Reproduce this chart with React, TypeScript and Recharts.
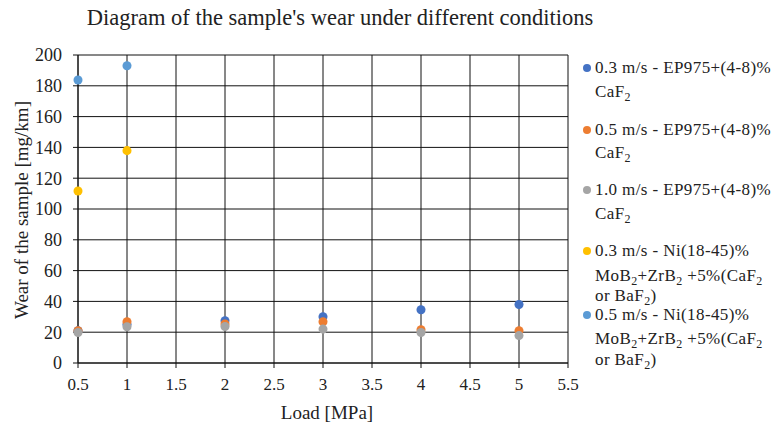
import React from "react";
import {
  CartesianGrid,
  Scatter,
  ScatterChart,
  XAxis,
  YAxis,
  ZAxis,
} from "recharts";

const loads = [0.5, 1, 2, 3, 4, 5];
const ep03 = [21, 25, 27.5, 30, 34.6, 38];
const ep05 = [21, 26.8, 25.3, 26.8, 21.6, 21];
const ep10 = [19.8, 23.5, 23.7, 22, 19.8, 17.8];
const niLoads = [0.5, 1];
const ni03 = [111.7, 137.9];
const ni05 = [183.8, 193];

const xTicks = [0.5, 1, 1.5, 2, 2.5, 3, 3.5, 4, 4.5, 5, 5.5];
const yTicks = [0, 20, 40, 60, 80, 100, 120, 140, 160, 180, 200];

const toPoints = (xs: number[], ys: number[]) => xs.map((x, i) => ({ x, y: ys[i] }));

// each legend line: plain text, subscript, plain text, subscript ...
const series = [
  { key: "ep03", data: toPoints(loads, ep03), color: "#4472C4", lines: [["0.3 m/s - EP975+(4-8)%"], ["CaF", "2"]] },
  { key: "ep05", data: toPoints(loads, ep05), color: "#ED7D31", lines: [["0.5 m/s - EP975+(4-8)%"], ["CaF", "2"]] },
  { key: "ep10", data: toPoints(loads, ep10), color: "#A5A5A5", lines: [["1.0 m/s - EP975+(4-8)%"], ["CaF", "2"]] },
  { key: "ni03", data: toPoints(niLoads, ni03), color: "#FFC000", lines: [["0.3 m/s - Ni(18-45)%"], ["MoB", "2", "+ZrB", "2", " +5%(CaF", "2"], ["or BaF", "2", ")"]] },
  { key: "ni05", data: toPoints(niLoads, ni05), color: "#5B9BD5", lines: [["0.5 m/s - Ni(18-45)%"], ["MoB", "2", "+ZrB", "2", " +5%(CaF", "2"], ["or BaF", "2", ")"]] },
];

const font = '"Liberation Serif", "Times New Roman", serif';
const textColor = "#222";

// vertical centres of the legend lines, taken from the reference layout
const legendRows = [[68, 92], [130, 153], [190, 214], [251, 276, 296], [315, 339, 360]];

function LegendBox() {
  return (
    <div style={{ position: "absolute", left: 582, top: 0, width: 194, fontFamily: font, fontSize: 17, color: textColor }}>
      {series.map((s, i) =>
        s.lines.map((parts, li) => (
          <div
            key={s.key + li}
            style={{
              position: "absolute",
              left: 0,
              top: legendRows[i][li] - 7,
              height: 14,
              lineHeight: "14px",
              paddingLeft: 13,
              whiteSpace: "nowrap",
              letterSpacing: 0.4,
            }}
          >
            {li === 0 && (
              <span
                style={{
                  position: "absolute",
                  left: 1,
                  top: 3,
                  width: 8,
                  height: 8,
                  borderRadius: 4,
                  background: s.color,
                }}
              />
            )}
            {parts.map((p, pi) =>
              pi % 2 === 1 ? (
                <span key={pi} style={{ fontSize: 12, lineHeight: "10px", position: "relative", top: 4 }}>{p}</span>
              ) : (
                <span key={pi}>{p}</span>
              )
            )}
          </div>
        ))
      )}
    </div>
  );
}

export default function App() {
  return (
    <div style={{ position: "absolute", left: 0, top: 0, width: 776, height: 424, background: "#fff", overflow: "hidden" }}>
      <div
        style={{
          position: "absolute",
          top: 5,
          left: 0,
          width: 680,
          textAlign: "center",
          fontFamily: font,
          fontSize: 22.5,
          color: textColor,
        }}
      >
        Diagram of the sample's wear under different conditions
      </div>
      <ScatterChart width={776} height={424} margin={{ top: 55, right: 208, bottom: 0, left: 0 }}>
        <CartesianGrid stroke="#111" strokeWidth={1} />
        <XAxis
          type="number"
          dataKey="x"
          domain={[0.5, 5.5]}
          ticks={xTicks}
          height={61}
          stroke="#111"
          tickSize={5}
          tickMargin={10}
          tick={{ fill: textColor, fontFamily: font, fontSize: 17 }}
        />
        <YAxis
          type="number"
          dataKey="y"
          domain={[0, 200]}
          ticks={yTicks}
          width={78}
          stroke="#111"
          tickSize={5}
          tickMargin={11}
          tick={{ fill: textColor, fontFamily: font, fontSize: 18 }}
        />
        <ZAxis range={[100, 100]} />
        {series.map((s) => (
          <Scatter key={s.key} name={s.key} data={s.data} fill={s.color} isAnimationActive={false} />
        ))}
      </ScatterChart>
      <div
        style={{
          position: "absolute",
          left: 227,
          top: 402,
          width: 200,
          textAlign: "center",
          fontFamily: font,
          fontSize: 19,
          lineHeight: "22px",
          color: textColor,
        }}
      >
        Load [MPa]
      </div>
      <div
        style={{
          position: "absolute",
          left: 22 - 130,
          top: 210 - 11,
          width: 260,
          textAlign: "center",
          fontFamily: font,
          fontSize: 19,
          lineHeight: "22px",
          color: textColor,
          transform: "rotate(-90deg)",
        }}
      >
        Wear of the sample [mg/km]
      </div>
      <LegendBox />
    </div>
  );
}
